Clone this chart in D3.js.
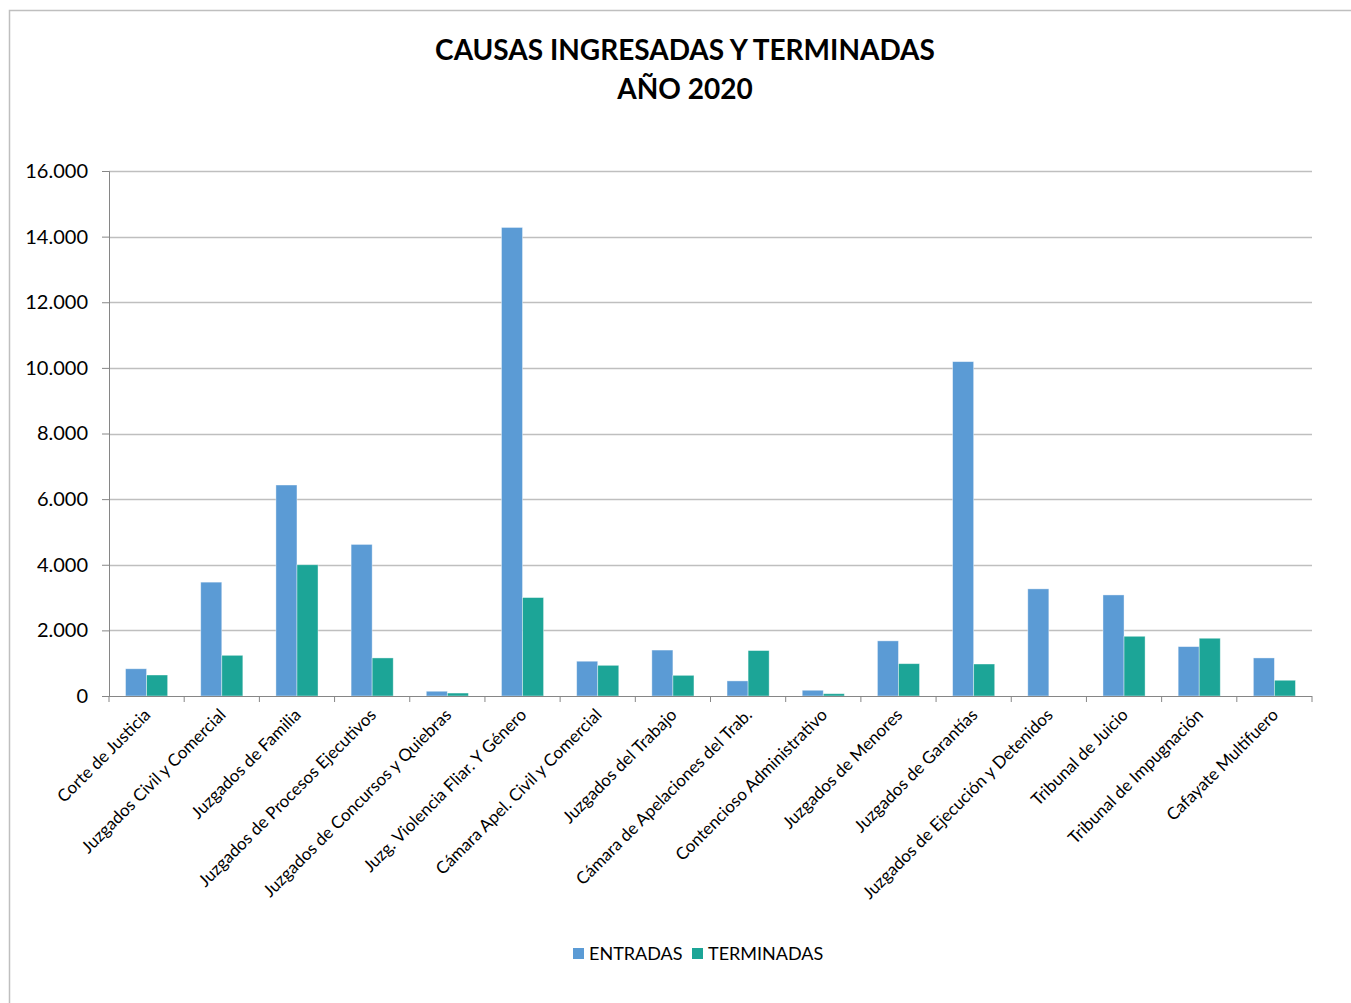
<!DOCTYPE html>
<html lang="es">
<head>
<meta charset="UTF-8">
<title>Causas ingresadas y terminadas 2020</title>
<style>
  body { margin: 0; background: #fff; }
  svg { display: block; font-family: Lato, "Open Sans", sans-serif; }
</style>
</head>
<body>
<svg width="1351" height="1003"></svg>
<script src="https://d3js.org/d3.v7.min.js"></script>
<script>
// datos
var categorias = [
  "Corte de Justicia", "Juzgados Civil y Comercial", "Juzgados de Familia",
  "Juzgados de Procesos Ejecutivos", "Juzgados de Concursos y Quiebras",
  "Juzg. Violencia Fliar. Y Género", "Cámara Apel. Civil y Comercial",
  "Juzgados del Trabajo", "Cámara de Apelaciones del Trab.",
  "Contencioso Administrativo", "Juzgados de Menores", "Juzgados de Garantías",
  "Juzgados de Ejecución y Detenidos", "Tribunal de Juicio",
  "Tribunal de Impugnación", "Cafayate Multifuero"
];
var entradas   = [830, 3470, 6430, 4620, 145, 14280, 1060, 1400, 460, 175, 1680, 10190, 3265, 3080, 1505, 1160];
var terminadas = [640, 1240, 4000, 1160, 90, 3000, 935, 630, 1385, 70, 985, 975, 0, 1820, 1760, 480];
var series = ["ENTRADAS", "TERMINADAS"];
var colores = ["#5B9BD5", "#1CA597"];
var yTicks = [0, 2000, 4000, 6000, 8000, 10000, 12000, 14000, 16000];

var marge = {top: 171, bottom: 307, left: 109, right: 39};
var svg = d3.select('svg');
var width = +svg.attr('width');
var height = +svg.attr('height');
var w = width - marge.left - marge.right;
var h = height - marge.top - marge.bottom;

// marco del grafico
svg.append('path')
  .attr('d', 'M9.5,' + (height + 2) + 'V10.5H' + (width + 2))
  .attr('fill', 'none').attr('stroke', '#BFBFBF').attr('stroke-width', 1.5);

// titulo
var title = svg.append('text')
  .attr('text-anchor', 'middle')
  .attr('font-weight', 'bold').attr('font-size', 28).attr('fill', '#000');
title.append('tspan').attr('x', 685).attr('y', 60).text('CAUSAS INGRESADAS Y TERMINADAS');
title.append('tspan').attr('x', 685).attr('y', 99).text('AÑO 2020');

var g = svg.append('g').attr('transform', 'translate(' + marge.left + ',' + marge.top + ')');

var x0 = d3.scaleBand().domain(categorias).range([0, w]).paddingInner(0.44).paddingOuter(0.22);
var x1 = d3.scaleBand().domain(series).range([0, x0.bandwidth()]);
var y = d3.scaleLinear().domain([0, 16000]).range([h, 0]);

// lineas de la grilla
g.append('g').selectAll('line').data(yTicks.slice(1)).enter().append('line')
  .attr('x1', 0).attr('x2', w)
  .attr('y1', function(d) { return Math.round(y(d)) + 0.5; })
  .attr('y2', function(d) { return Math.round(y(d)) + 0.5; })
  .attr('stroke', '#BFBFBF').attr('stroke-width', 1.3);

// barras
var grupos = g.append('g').selectAll('g').data(categorias).enter().append('g')
  .attr('transform', function(d) { return 'translate(' + x0(d) + ',0)'; });

grupos.selectAll('rect')
  .data(function(d, i) { return [{s: series[0], v: entradas[i]}, {s: series[1], v: terminadas[i]}]; })
  .enter().append('rect')
  .attr('x', function(d) { return x1(d.s); })
  .attr('y', function(d) { return y(d.v); })
  .attr('width', x1.bandwidth())
  .attr('height', function(d) { return h - y(d.v); })
  .attr('fill', function(d, i) { return colores[i]; })
  .attr('stroke', '#fff').attr('stroke-opacity', 0.5).attr('stroke-width', 0.8);

// eje y
var yAxis = d3.axisLeft(y).tickValues(yTicks).tickSize(7).tickPadding(14)
  .tickFormat(function(d) { return d3.format(',')(d).replace(/,/g, '.'); });
var gy = g.append('g').call(yAxis);
gy.select('.domain').attr('stroke', '#868686');
gy.selectAll('.tick line').attr('stroke', '#868686');
gy.selectAll('.tick text').attr('font-size', 20).attr('fill', '#000')
  .style('font-family', 'Lato, "Open Sans", sans-serif');

// eje x con marcas entre categorias
var gx = g.append('g').attr('transform', 'translate(0,' + h + ')');
gx.append('line').attr('x1', 0).attr('x2', w).attr('y1', 0.5).attr('y2', 0.5).attr('stroke', '#868686');
var step = x0.step();
gx.selectAll('.sep').data(d3.range(categorias.length + 1)).enter().append('line')
  .attr('class', 'sep')
  .attr('x1', function(i) { return x0(categorias[0]) - x0.paddingInner() * step / 2 + i * step; })
  .attr('x2', function(i) { return x0(categorias[0]) - x0.paddingInner() * step / 2 + i * step; })
  .attr('y1', 0).attr('y2', 6).attr('stroke', '#868686');

gx.selectAll('.lbl').data(categorias).enter().append('text')
  .attr('class', 'lbl')
  .attr('text-anchor', 'end')
  .attr('font-size', 17).attr('fill', '#000')
  .attr('transform', function(d) {
    return 'translate(' + (x0(d) + x0.bandwidth() / 2 + 5) + ',20) rotate(-45)';
  })
  .text(function(d) { return d; });

// leyenda
var leyenda = svg.append('g').attr('transform', 'translate(573,953)');
var offs = [0, 119];
series.forEach(function(s, i) {
  var it = leyenda.append('g').attr('transform', 'translate(' + offs[i] + ',0)');
  it.append('rect').attr('x', 0).attr('y', -5).attr('width', 11).attr('height', 11).attr('fill', colores[i]);
  it.append('text').attr('x', 16).attr('y', 7).attr('font-size', 18).attr('fill', '#000').text(s);
});
</script>
</body>
</html>
